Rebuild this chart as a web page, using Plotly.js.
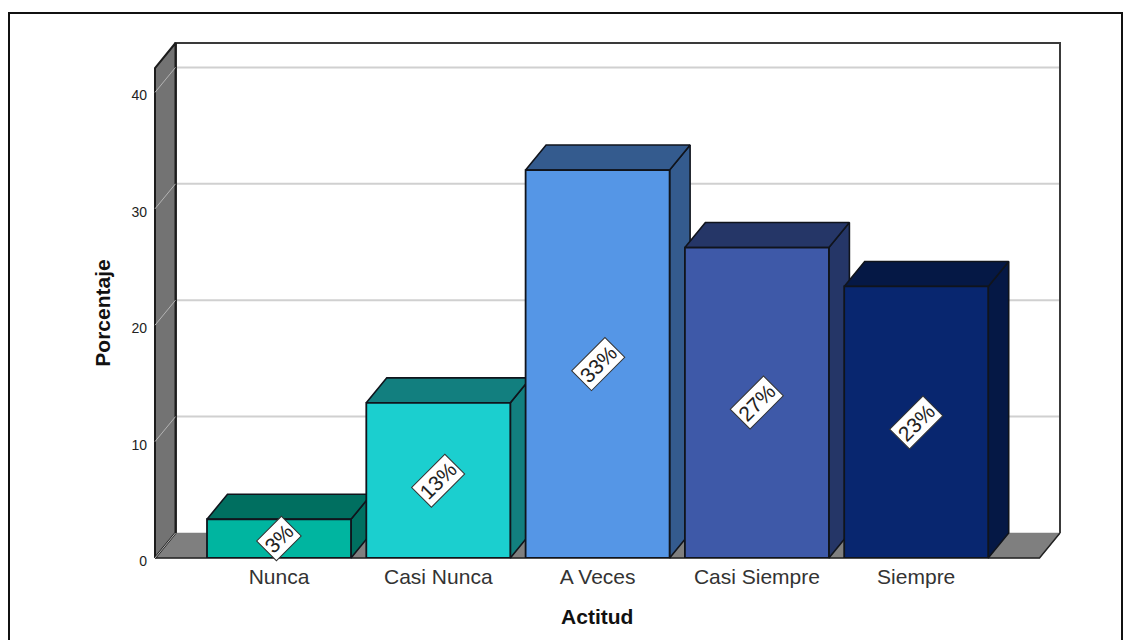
<!DOCTYPE html>
<html>
<head>
<meta charset="utf-8">
<script src="https://cdn.plot.ly/plotly-3.0.1.min.js"></script>
<style>html,body{margin:0;padding:0;background:#fff}#chart{width:1133px;height:640px}</style>
</head>
<body>
<div id="chart"></div>
<script>
// Share of responses per attitude level
const categories = ['Nunca', 'Casi Nunca', 'A Veces', 'Casi Siempre', 'Siempre'];
const percentages = [3.33, 13.33, 33.33, 26.67, 23.33];
const frontColors = ['#00B5A0', '#1BCFCF', '#5596E6', '#3E59A8', '#08266F'];
const shadeColors = ['#006F60', '#127F7F', '#345B8E', '#253667', '#051845'];
const yTicks = [0, 10, 20, 30, 40];

// Box geometry in pixels: wall and floor extents, one value unit, one category step, depth offset
const W = 1133, H = 640;
const boxLeft = 155, boxRight = 1060, boxTop = 43, boxBottom = 558;
const pad = 4;
const pxPerValue = 11.64, pxPerCategory = 159.3;
const depthX = 20.5, depthY = 25;
const firstCenter = 279;
const barWidth = 144 / pxPerCategory;

const dx = depthX / pxPerCategory;
const dy = depthY / pxPerValue;
const xMin = (boxLeft - firstCenter) / pxPerCategory;
const xMax = (boxRight - firstCenter) / pxPerCategory;
const xFrontMax = xMax - dx;
const yMax = (boxBottom - depthY - boxTop) / pxPerValue;
const xPad = pad / pxPerCategory, yPad = pad / pxPerValue;

// Filled polygon or open stroke on the box axes, where the back plane reads true values
function face(xs, ys, fill, lineColor, lineWidth) {
  return {
    type: 'scatter', xaxis: 'x', yaxis: 'y', mode: 'lines', x: xs, y: ys,
    fill: fill ? 'toself' : 'none', fillcolor: fill || undefined,
    line: {color: lineColor, width: lineWidth, shape: 'linear'},
    hoverinfo: 'skip', showlegend: false
  };
}

const traces = [];

// Gridlines on the back panel
yTicks.slice(1).forEach(v => traces.push(face([xMin + dx, xMax], [v, v], null, '#d0d0d0', 2)));

// Back panel outline
traces.push(face([xMin + dx, xMin + dx, xMax, xMax], [0, yMax, yMax, 0], null, '#3a3a3a', 2));
traces.push(face([xMin + dx, xMin + dx], [0, yMax], null, '#151515', 2.4));

// Floor, with dark strokes only on its front and right edges
traces.push(face([xMin, xFrontMax, xMax, xMin + dx, xMin], [-dy, -dy, 0, 0, -dy], '#7F7F7F', '#7F7F7F', 0.5));
traces.push(face([xMin, xFrontMax, xMax], [-dy, -dy, 0], null, '#222222', 1.5));

// Left wall
traces.push(face([xMin, xMin + dx, xMin + dx, xMin, xMin], [-dy, 0, yMax, yMax - dy, -dy], '#737373', '#1c1c1c', 2));

// Grid strokes crossing the left wall
yTicks.forEach(v => traces.push(face([xMin, xMin + dx], [v - dy, v], null, '#b4b4b4', 1)));

// Top and side of every bar, left to right so nearer faces overlap correctly
percentages.forEach((v, i) => {
  const x0 = i - barWidth / 2, x1 = i + barWidth / 2;
  traces.push(face([x1, x1 + dx, x1 + dx, x1, x1], [v - dy, v, 0, -dy, v - dy], shadeColors[i], '#10141c', 1.6));
  traces.push(face([x0, x1, x1 + dx, x0 + dx, x0], [v - dy, v - dy, v, v, v - dy], shadeColors[i], '#10141c', 1.6));
});

// Front faces of the bars
traces.push({
  type: 'bar', xaxis: 'x2', yaxis: 'y2', x: categories, y: percentages,
  marker: {color: frontColors, line: {color: '#10141c', width: 1.8}},
  hoverinfo: 'x+y', showlegend: false, cliponaxis: false
});

const plotL = boxLeft - pad, plotR = boxRight + pad, plotT = boxTop - pad, plotB = boxBottom + pad;
const pxX = p => (p - plotL) / (plotR - plotL);
const pxY = p => (plotB - p) / (plotB - plotT);

const layout = {
  width: W, height: H,
  margin: {l: plotL, r: W - plotR, t: plotT, b: H - plotB, pad: 0},
  paper_bgcolor: '#ffffff', plot_bgcolor: 'rgba(0,0,0,0)',
  font: {family: '"Liberation Sans", Arial, sans-serif', color: '#222'},
  showlegend: false, bargap: 1 - barWidth,
  // Box axes: hidden, they carry the depth faces
  xaxis: {domain: [0, 1], range: [xMin - xPad, xMax + xPad], type: 'linear', visible: false, fixedrange: true},
  yaxis: {domain: [0, 1], range: [-dy - yPad, yMax + yPad], type: 'linear', anchor: 'x', visible: false, fixedrange: true},
  // Front-plane axes: ticks, labels and titles
  xaxis2: {
    domain: [pxX(boxLeft), pxX(boxRight - depthX)], anchor: 'y2', type: 'category',
    categoryorder: 'array', categoryarray: categories,
    range: [xMin, xFrontMax], fixedrange: true,
    showgrid: false, zeroline: false, showline: false, ticks: '',
    ticklabelstandoff: 4, tickfont: {size: 21, color: '#333'},
    title: {text: 'Actitud', font: {size: 21, color: '#111', weight: 'bold'}, standoff: 22}
  },
  yaxis2: {
    domain: [pxY(boxBottom), pxY(boxTop + depthY)], anchor: 'x2', range: [0, yMax], fixedrange: true,
    showgrid: false, zeroline: false, showline: false, ticks: '',
    tickmode: 'array', tickvals: yTicks, ticklabelstandoff: 7, ticklabelshift: 3,
    tickfont: {size: 14, color: '#222'},
    title: {text: 'Porcentaje', font: {size: 21, color: '#111', weight: 'bold'}, standoff: 15}
  },
  // Value tags tilted across each bar, worded from the same values as the bars
  annotations: percentages.map((v, i) => ({
    xref: 'x2', yref: 'y2', x: categories[i], y: v / 2,
    text: Math.round(v) + '%', showarrow: false, textangle: -45,
    font: {size: 21, color: '#222'},
    bgcolor: '#ffffff', bordercolor: '#333333', borderwidth: 1, borderpad: 2,
    xanchor: 'center', yanchor: 'middle'
  })),
  // Outer frame around the chart, running off the bottom edge
  shapes: [{
    type: 'rect', xref: 'paper', yref: 'paper', layer: 'below',
    x0: pxX(9), x1: pxX(1122), y0: pxY(660), y1: pxY(13),
    line: {color: '#111', width: 2}, fillcolor: 'rgba(0,0,0,0)'
  }]
};

Plotly.newPlot('chart', traces, layout, {displayModeBar: false, responsive: false});
</script>
</body>
</html>
